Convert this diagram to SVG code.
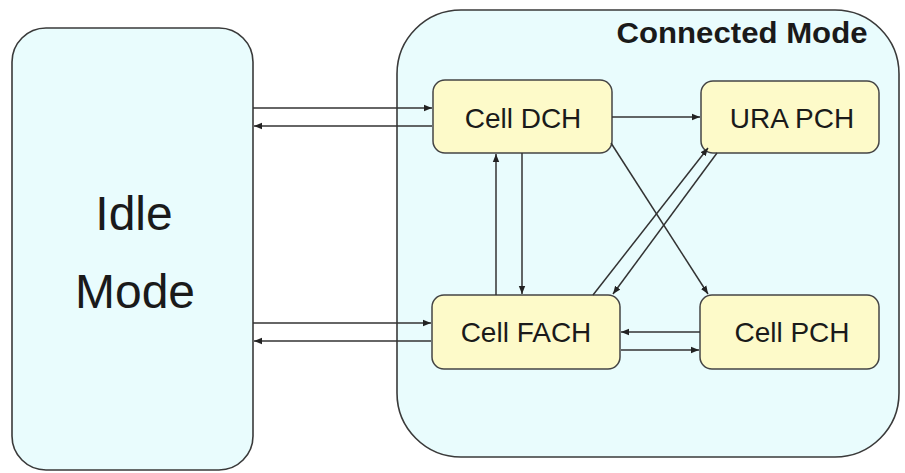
<svg xmlns="http://www.w3.org/2000/svg" width="905" height="473" viewBox="0 0 905 473">
<defs>
<marker id="ah" viewBox="0 0 10 10" refX="10" refY="5" markerWidth="8" markerHeight="8" markerUnits="userSpaceOnUse" orient="auto">
<path d="M0,1 L10,5 L0,9 z" fill="#222"/>
</marker>
</defs>
<style>
.mode{fill:#e9fcfd;stroke:#3a3a3a;stroke-width:1.6}
.node{fill:#fdfac9;stroke:#444;stroke-width:1.5}
.lbl{font-family:"Liberation Sans",Arial,sans-serif;fill:#1a1a1a;text-anchor:middle}
.edge{stroke:#333;stroke-width:1.5;fill:none;marker-end:url(#ah)}
</style>
<rect width="905" height="473" fill="#ffffff"/>
<g id="idle">
<rect class="mode" x="12" y="28" width="241" height="442" rx="34" ry="34"/>
<text class="lbl" x="134" y="230" font-size="48">Idle</text>
<text class="lbl" x="135" y="308" font-size="48">Mode</text>
</g>
<g id="connected">
<rect class="mode" x="397" y="10" width="502" height="447" rx="64" ry="64"/>
<text class="lbl" x="742" y="43" font-size="29" font-weight="bold" textLength="251" lengthAdjust="spacingAndGlyphs">Connected Mode</text>
</g>
<g id="cell-dch">
<rect class="node" x="433" y="80" width="179" height="73" rx="12" ry="12"/>
<text class="lbl" x="523" y="128" font-size="28">Cell DCH</text>
</g>
<g id="ura-pch">
<rect class="node" x="701" y="81" width="178" height="72" rx="12" ry="12"/>
<text class="lbl" x="792" y="128" font-size="28">URA PCH</text>
</g>
<g id="cell-fach">
<rect class="node" x="432" y="295" width="188" height="74" rx="12" ry="12"/>
<text class="lbl" x="526" y="342" font-size="28">Cell FACH</text>
</g>
<g id="cell-pch">
<rect class="node" x="700" y="295" width="179" height="74" rx="12" ry="12"/>
<text class="lbl" x="792" y="342" font-size="28">Cell PCH</text>
</g>
<g id="connectors">
<line class="edge" x1="253" y1="108" x2="432" y2="108"/>
<line class="edge" x1="432" y1="126" x2="254" y2="126"/>
<line class="edge" x1="253" y1="323" x2="431" y2="323"/>
<line class="edge" x1="431" y1="341" x2="254" y2="341"/>
<line class="edge" x1="612" y1="117" x2="700" y2="117"/>
<line class="edge" x1="700" y1="332" x2="621" y2="332"/>
<line class="edge" x1="621" y1="350" x2="699" y2="350"/>
<line class="edge" x1="496" y1="295" x2="496" y2="154"/>
<line class="edge" x1="522" y1="153" x2="522" y2="294"/>
<line class="edge" x1="611" y1="143" x2="708" y2="294"/>
<line class="edge" x1="593" y1="295" x2="708" y2="148"/>
<line class="edge" x1="717" y1="153" x2="613" y2="294"/>
</g>
</svg>
